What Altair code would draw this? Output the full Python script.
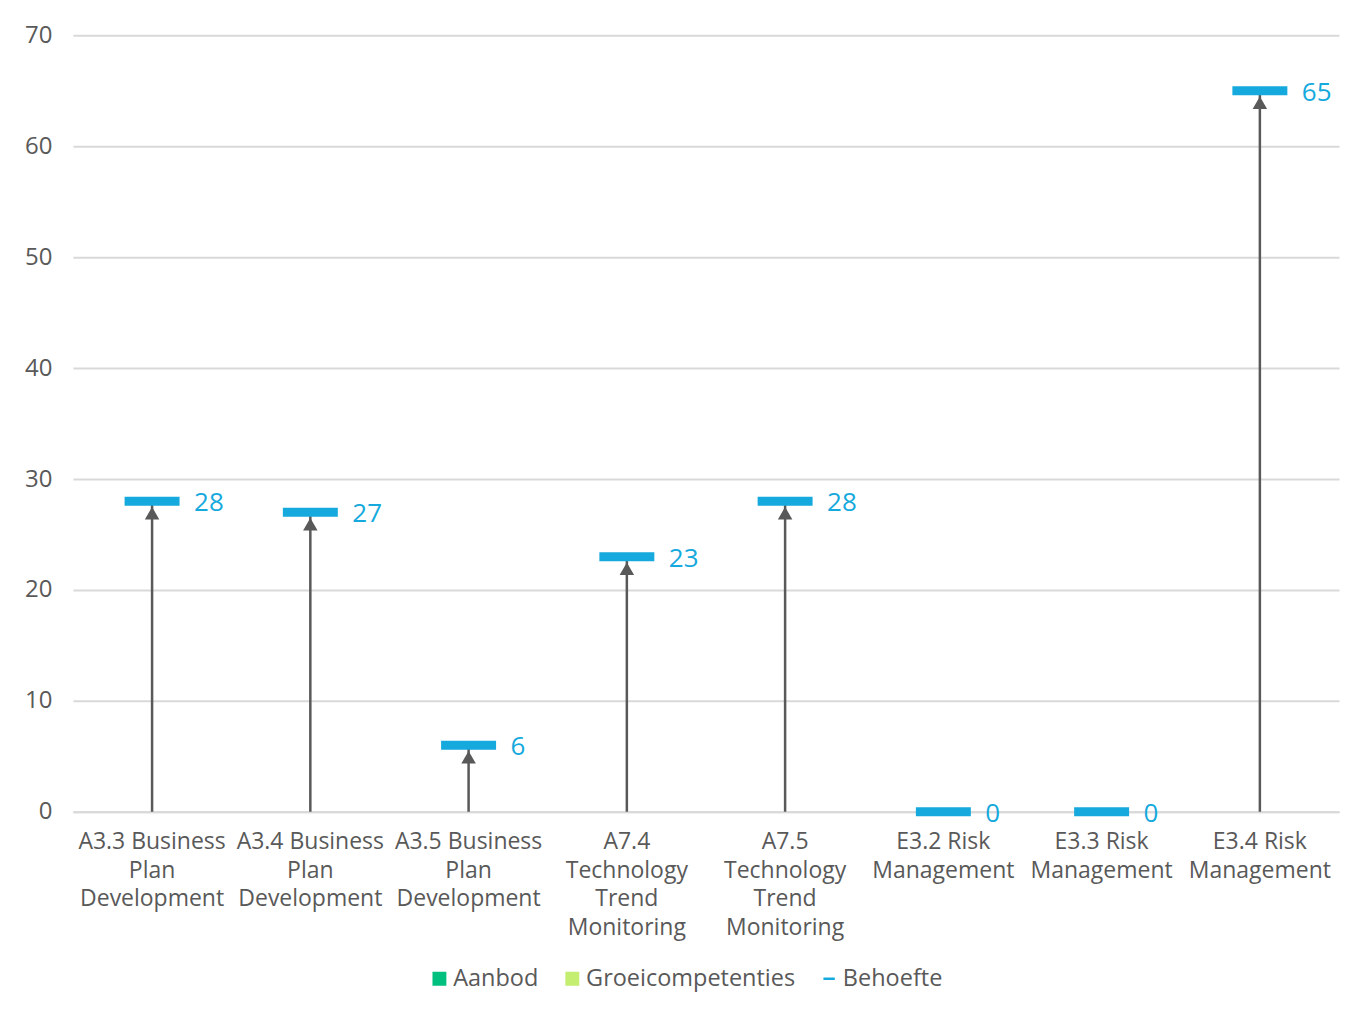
import altair as alt
import pandas as pd

categories = [
    "A3.3 Business\nPlan\nDevelopment",
    "A3.4 Business\nPlan\nDevelopment",
    "A3.5 Business\nPlan\nDevelopment",
    "A7.4\nTechnology\nTrend\nMonitoring",
    "A7.5\nTechnology\nTrend\nMonitoring",
    "E3.2 Risk\nManagement",
    "E3.3 Risk\nManagement",
    "E3.4 Risk\nManagement",
]
behoefte = [28, 27, 6, 23, 28, 0, 0, 65]

legend_names = ["Aanbod", "Groeicompetenties", "Behoefte"]
legend_colors = ["#00C07F", "#C4EE70", "#15A9DD"]
legend_shapes = ["square", "square", "stroke"]

FONT = "Open Sans"
BLUE = "#15A9DD"
GRAY = "#595959"

df = pd.DataFrame({"cat": categories, "value": behoefte})
leg_df = pd.DataFrame({"series": legend_names, "value": [None, None, None], "cat": [categories[0]] * 3})

x = alt.X("cat:N", sort=categories, title=None,
          scale=alt.Scale(paddingInner=0, paddingOuter=0),
          axis=alt.Axis(labelExpr="split(datum.label, '\\n')", labelAngle=0,
                        labelFontSize=23, labelColor=GRAY, labelFont=FONT,
                        labelLineHeight=28.5, labelPadding=19, ticks=False,
                        domain=True, domainColor="#D9D9D9", domainWidth=2,
                        labelBaseline="top", grid=False, labelLimit=300))
y = alt.Y("value:Q", title=None,
          scale=alt.Scale(domain=[0, 70], nice=False),
          axis=alt.Axis(values=[0, 10, 20, 30, 40, 50, 60, 70], labelFontSize=24,
                        labelColor=GRAY, labelFont=FONT, labelPadding=21,
                        ticks=False, domain=False, grid=True,
                        gridColor="#D9D9D9", gridWidth=2))

base = alt.Chart(df)

arrows = base.transform_filter("datum.value > 0").mark_rule(
    color=GRAY, strokeWidth=2.5).encode(x=x, y=y, y2=alt.datum(0))

heads = base.transform_filter("datum.value > 0").mark_point(
    shape="triangle-up", filled=True, color=GRAY, size=210, opacity=1, yOffset=12
).encode(x=x, y=y)

ticks = base.mark_tick(color=BLUE, size=55, thickness=9, opacity=1).encode(x=x, y=y)

labels = base.mark_text(color=BLUE, fontSize=26, font=FONT, align="left",
                        baseline="middle", dx=42, dy=2).encode(
    x=x, y=y, text=alt.Text("value:Q"))

leg = alt.Legend(title=None, orient="none", legendX=355, legendY=932,
                 direction="horizontal", labelFontSize=23.5, labelLimit=400,
                 labelColor=GRAY, labelFont=FONT, symbolSize=130,
                 columnPadding=22, labelOffset=2, symbolStrokeWidth=2.5)

legend_layer = alt.Chart(leg_df).mark_point(filled=True, strokeWidth=2.5, opacity=1).encode(
    x=x,
    y=y,
    fill=alt.Fill("series:N", sort=legend_names,
                  scale=alt.Scale(domain=legend_names, range=legend_colors), legend=leg),
    stroke=alt.Stroke("series:N", sort=legend_names,
                      scale=alt.Scale(domain=legend_names, range=legend_colors), legend=leg),
    shape=alt.Shape("series:N", sort=legend_names,
                    scale=alt.Scale(domain=legend_names, range=legend_shapes), legend=leg),
)

chart = alt.layer(arrows, heads, ticks, labels, legend_layer).properties(
    width=1267, height=777,
    background="white",
    autosize=alt.AutoSizeParams(type="none"),
    padding={"left": 65, "top": 27, "right": 2, "bottom": 185},
).configure_view(stroke=None, strokeWidth=0)

chart.save("out.html", embed_options={"renderer": "svg", "actions": False})
